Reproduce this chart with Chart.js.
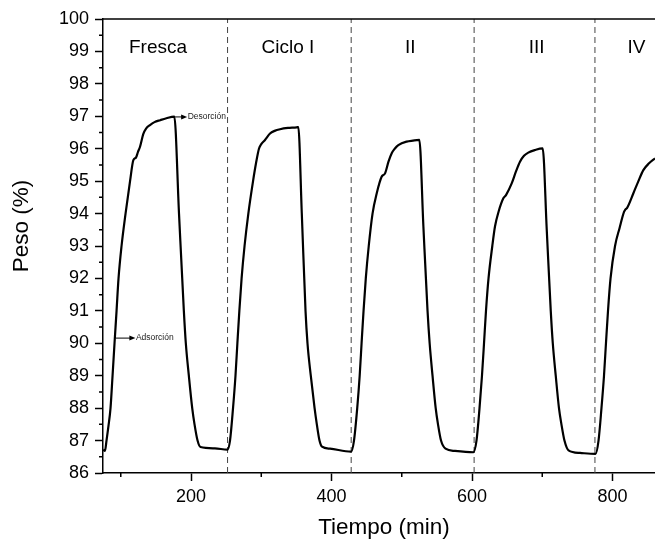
<!DOCTYPE html>
<html>
<head>
<meta charset="utf-8">
<script src="https://cdn.jsdelivr.net/npm/chart.js@4.4.1/dist/chart.umd.min.js"></script>
<style>
  html, body { margin: 0; padding: 0; background: #fff; }
  #wrap { width: 655px; height: 544px; }
</style>
</head>
<body>
<div id="wrap"><canvas id="chart" width="655" height="544"></canvas></div>
<script>
// Tiempo (min) / Peso (%), one pair of arrays per cycle
const tiempoFresca = [75, 77.5, 79.7, 82.5, 85.4, 88.3, 91.1, 94, 96.8, 101.1, 106.8, 113.2, 117.9, 121.7, 124.5, 127.4,
  132, 136, 141.6, 148, 156, 165, 176.2, 182.9, 189.8, 192.6, 196.9, 201.7, 205, 209.3, 213.5, 234, 251.7];
const pesoFresca = [86.72, 86.68, 87.0, 87.45, 88.0, 89.0, 90.0, 91.0, 92.0, 93.0, 94.0, 95.0, 95.65, 95.73, 95.9, 96.06,
  96.45, 96.62, 96.73, 96.82, 96.88, 96.94, 96.99, 94.0, 91.0, 90.0, 89.0, 88.0, 87.5, 87.0, 86.8, 86.76, 86.72];

const tiempoCiclo1 = [255.5, 259.8, 263.3, 266, 268.8, 272, 276.2, 281.6, 288.3, 292.5, 296.7, 300, 305.3, 312.5, 319,
  326.7, 338, 350.5, 352.7, 357.7, 363, 365.8, 370.5, 375.9, 379.1, 382.9, 386.5, 397.9, 427.8];
const pesoCiclo1 = [87.0, 88.0, 89.0, 90.0, 91.0, 92.0, 93.0, 94.0, 95.0, 95.55, 96.0, 96.14, 96.27, 96.47, 96.55,
  96.6, 96.64, 96.66, 96.67, 94.0, 91.0, 90.0, 89.0, 88.0, 87.5, 87.0, 86.81, 86.75, 86.66];

const tiempoCiclo2 = [432, 436.6, 440.1, 442.8, 445.6, 448.8, 453, 458.4, 464.3, 471.5, 476.2, 481.1, 485.7, 490, 495.1,
  507, 516, 525, 530.8, 536.7, 539.7, 543.8, 548.3, 551.6, 555.9, 562.3, 575.8, 601.8];
const pesoCiclo2 = [87.0, 88.0, 89.0, 90.0, 91.0, 92.0, 93.0, 94.0, 94.62, 95.14, 95.24, 95.6, 95.86, 96.0, 96.11,
  96.22, 96.25, 96.27, 93.6, 91.0, 90.0, 89.0, 88.0, 87.5, 87.0, 86.75, 86.68, 86.64];

const tiempoCiclo3 = [606.4, 610.7, 614.2, 617.1, 619.9, 623.5, 628.9, 632.7, 637.7, 644.6, 648.4, 656.5, 662.6, 668.3,
  674, 680.1, 689.7, 700.6, 706.4, 712.1, 715, 719.2, 723.8, 727.3, 731.6, 737.4, 753.8, 775.8];
const pesoCiclo3 = [87.0, 88.0, 89.0, 90.0, 91.0, 92.0, 93.0, 93.6, 94.05, 94.47, 94.57, 94.93, 95.3, 95.6,
  95.78, 95.88, 95.96, 96.01, 93.5, 91.0, 90.0, 89.0, 88.0, 87.5, 87.0, 86.7, 86.62, 86.59];

const tiempoCiclo4 = [780.1, 784.3, 787.9, 790.7, 793.6, 797.2, 803.6, 810, 816.4, 818.5, 820.6, 829.6, 836.3, 843.9, 852, 860.5];
const pesoCiclo4 = [87.0, 88.0, 89.0, 90.0, 91.0, 92.0, 93.0, 93.55, 94.05, 94.13, 94.17, 94.62, 94.97, 95.34, 95.55, 95.7];

const cycleBounds = [252, 428, 603, 775];
const cycleNames = ['Fresca', 'Ciclo I', 'II', 'III', 'IV'];
const cycleNameTiempo = [153, 338, 512, 692, 834];
const cycleNamePeso = 99.1;

const xTicks = [200, 400, 600, 800];
const xMinorTicks = [100, 300, 500, 700];
const yMinorTicks = [86.5, 87.5, 88.5, 89.5, 90.5, 91.5, 92.5, 93.5, 94.5, 95.5, 96.5, 97.5, 98.5, 99.5];

// arrow labels: line from (t0, peso) to t1, then the text
const arrowNotes = [
  { text: 'Desorción', t0: 176, t1: 194.5, peso: 96.98 },
  { text: 'Adsorción', t0: 92.8, t1: 120.8, peso: 90.16 },
];

const FONT = "'Liberation Sans', Arial, sans-serif";

const tiempo = [...tiempoFresca, ...tiempoCiclo1, ...tiempoCiclo2, ...tiempoCiclo3, ...tiempoCiclo4];
const peso = [...pesoFresca, ...pesoCiclo1, ...pesoCiclo2, ...pesoCiclo3, ...pesoCiclo4];
const curve = tiempo.map((t, i) => ({ x: t, y: peso[i] }));

const boundSets = cycleBounds.map(b => ({
  data: [{ x: b, y: 86 }, { x: b, y: 100 }],
  borderColor: '#444',
  borderWidth: 1,
  borderDash: [6, 4],
  pointRadius: 0,
}));

const extras = {
  id: 'extras',
  afterDraw(chart) {
    const { ctx, chartArea: a, scales: { x, y } } = chart;
    ctx.save();
    ctx.strokeStyle = '#000';
    ctx.lineWidth = 1.5;

    // top border
    ctx.beginPath();
    ctx.moveTo(a.left, a.top);
    ctx.lineTo(a.right, a.top);
    ctx.stroke();

    // minor ticks
    ctx.beginPath();
    xMinorTicks.forEach(v => {
      const px = x.getPixelForValue(v);
      ctx.moveTo(px, a.bottom);
      ctx.lineTo(px, a.bottom + 4);
    });
    yMinorTicks.forEach(v => {
      const py = y.getPixelForValue(v);
      ctx.moveTo(a.left, py);
      ctx.lineTo(a.left - 4, py);
    });
    ctx.stroke();

    // cycle names
    ctx.fillStyle = '#000';
    ctx.font = `19px ${FONT}`;
    ctx.textAlign = 'center';
    ctx.textBaseline = 'middle';
    cycleNames.forEach((name, i) => {
      ctx.fillText(name, x.getPixelForValue(cycleNameTiempo[i]), y.getPixelForValue(cycleNamePeso));
    });

    // arrows
    ctx.lineWidth = 1;
    ctx.font = `8.5px ${FONT}`;
    ctx.textAlign = 'left';
    arrowNotes.forEach(n => {
      const x0 = x.getPixelForValue(n.t0);
      const x1 = x.getPixelForValue(n.t1);
      const py = y.getPixelForValue(n.peso);
      ctx.beginPath();
      ctx.moveTo(x0, py);
      ctx.lineTo(x1 - 4, py);
      ctx.stroke();
      ctx.beginPath();
      ctx.moveTo(x1, py);
      ctx.lineTo(x1 - 6, py - 2.5);
      ctx.lineTo(x1 - 6, py + 2.5);
      ctx.closePath();
      ctx.fill();
      ctx.fillStyle = '#222';
      ctx.fillText(n.text, x1 + 0.5, py);
      ctx.fillStyle = '#000';
    });

    // axis titles
    ctx.font = `22.5px ${FONT}`;
    ctx.textAlign = 'center';
    ctx.fillText('Tiempo (min)', 384, 528);
    ctx.translate(22, 226);
    ctx.rotate(-Math.PI / 2);
    ctx.fillText('Peso (%)', 0, 0);
    ctx.restore();
  }
};

new Chart(document.getElementById('chart'), {
  type: 'line',
  data: {
    datasets: [
      {
        data: curve,
        borderColor: '#000',
        borderWidth: 2.2,
        pointRadius: 0,
        cubicInterpolationMode: 'monotone',
      },
      ...boundSets,
    ]
  },
  options: {
    responsive: false,
    animation: false,
    events: [],
    layout: { padding: { top: 19, right: 0, left: 0, bottom: 0 } },
    plugins: { legend: { display: false }, tooltip: { enabled: false } },
    scales: {
      x: {
        type: 'linear',
        min: 74.7,
        max: 860.5,
        afterBuildTicks: s => { s.ticks = xTicks.map(v => ({ value: v })); },
        afterFit: s => { s.height = 71; },
        ticks: { color: '#000', font: { family: FONT, size: 18 }, padding: 5, maxRotation: 0, autoSkip: false },
        grid: { drawOnChartArea: false, drawTicks: true, tickLength: 8, tickWidth: 1.5, tickColor: '#000' },
        border: { color: '#000', width: 1.5 },
      },
      y: {
        min: 86,
        max: 100,
        afterFit: s => { s.width = 103; },
        ticks: { stepSize: 1, color: '#000', font: { family: FONT, size: 18 }, padding: 6 },
        grid: { drawOnChartArea: false, drawTicks: true, tickLength: 8, tickWidth: 1.5, tickColor: '#000' },
        border: { color: '#000', width: 1.5 },
      }
    }
  },
  plugins: [extras]
});
</script>
</body>
</html>
